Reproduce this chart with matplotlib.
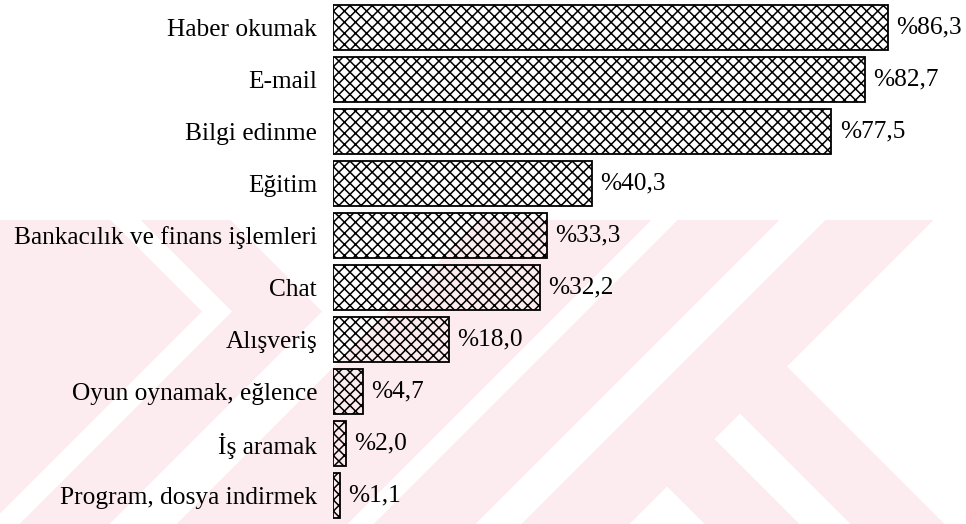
import numpy as np
import matplotlib
matplotlib.use("Agg")
import matplotlib.pyplot as plt

# Internet kullanım amaçları (%)
categories = [
    "Haber okumak",
    "E-mail",
    "Bilgi edinme",
    "Eğitim",
    "Bankacılık ve finans işlemleri",
    "Chat",
    "Alışveriş",
    "Oyun oynamak, eğlence",
    "İş aramak",
    "Program, dosya indirmek",
]
values = [86.3, 82.7, 77.5, 40.3, 33.3, 32.2, 18.0, 4.7, 2.0, 1.1]

W, H = 966, 524
fig = plt.figure(figsize=(W / 100, H / 100), dpi=100)
fig.patch.set_facecolor("white")

# faint background stamp, built on the pixel grid
yy, xx = np.mgrid[0:H, 0:W].astype(float)
s = xx + yy
d = yy - xx
stamp = np.zeros((H, W), dtype=bool)
# right-hand "K"
stamp |= (s >= 897) & (s <= 998)
stamp |= (s >= 1045) & (s <= 1152)
stamp |= (s > 1152) & (((d >= -420) & (d <= -327)) | ((d >= -275) & (d <= -181)))
# left-hand nested chevrons
inside = lambda S, D: (s <= S) & (d >= D)
stamp |= (s >= 700) & (s <= 870)
stamp |= inside(632, -10) & ~inside(542, 80)
stamp |= inside(512, 110)
stamp &= (yy >= 220)
img = np.ones((H, W, 3))
pink = np.array([252, 236, 240]) / 255.0
img[stamp] = pink
fig.figimage(img, xo=0, yo=0, origin="upper", zorder=-1)

x0 = 333
ax = fig.add_axes([x0 / W, 0, (W - x0) / W, 1])
ax.set_facecolor("none")
px_per_unit = 6.43
ax.set_xlim(0, (W - x0) / px_per_unit)
row = 52.0
top = 27.5
ax.set_ylim((H - top) / row, -top / row)

plt.rcParams["hatch.linewidth"] = 1.1
ypos = np.arange(len(categories))
bars = ax.barh(ypos, values, height=45 / row, facecolor="none",
               edgecolor="black", linewidth=1.3, hatch="xxx")

font = dict(family="Liberation Serif", size=18.3, color="black")
ax.set_yticks(ypos, categories, **font)
ax.tick_params(axis="y", length=0, pad=11.5)
ax.set_xticks([])
for sp in ax.spines.values():
    sp.set_visible(False)

for yv, v in zip(ypos, values):
    label = "%" + f"{v:.1f}".replace(".", ",")
    ax.annotate(label, xy=(v, yv), xytext=(6, 0), textcoords="offset points",
                ha="left", va="center", **font)

fig.savefig("out.png", dpi=100)
